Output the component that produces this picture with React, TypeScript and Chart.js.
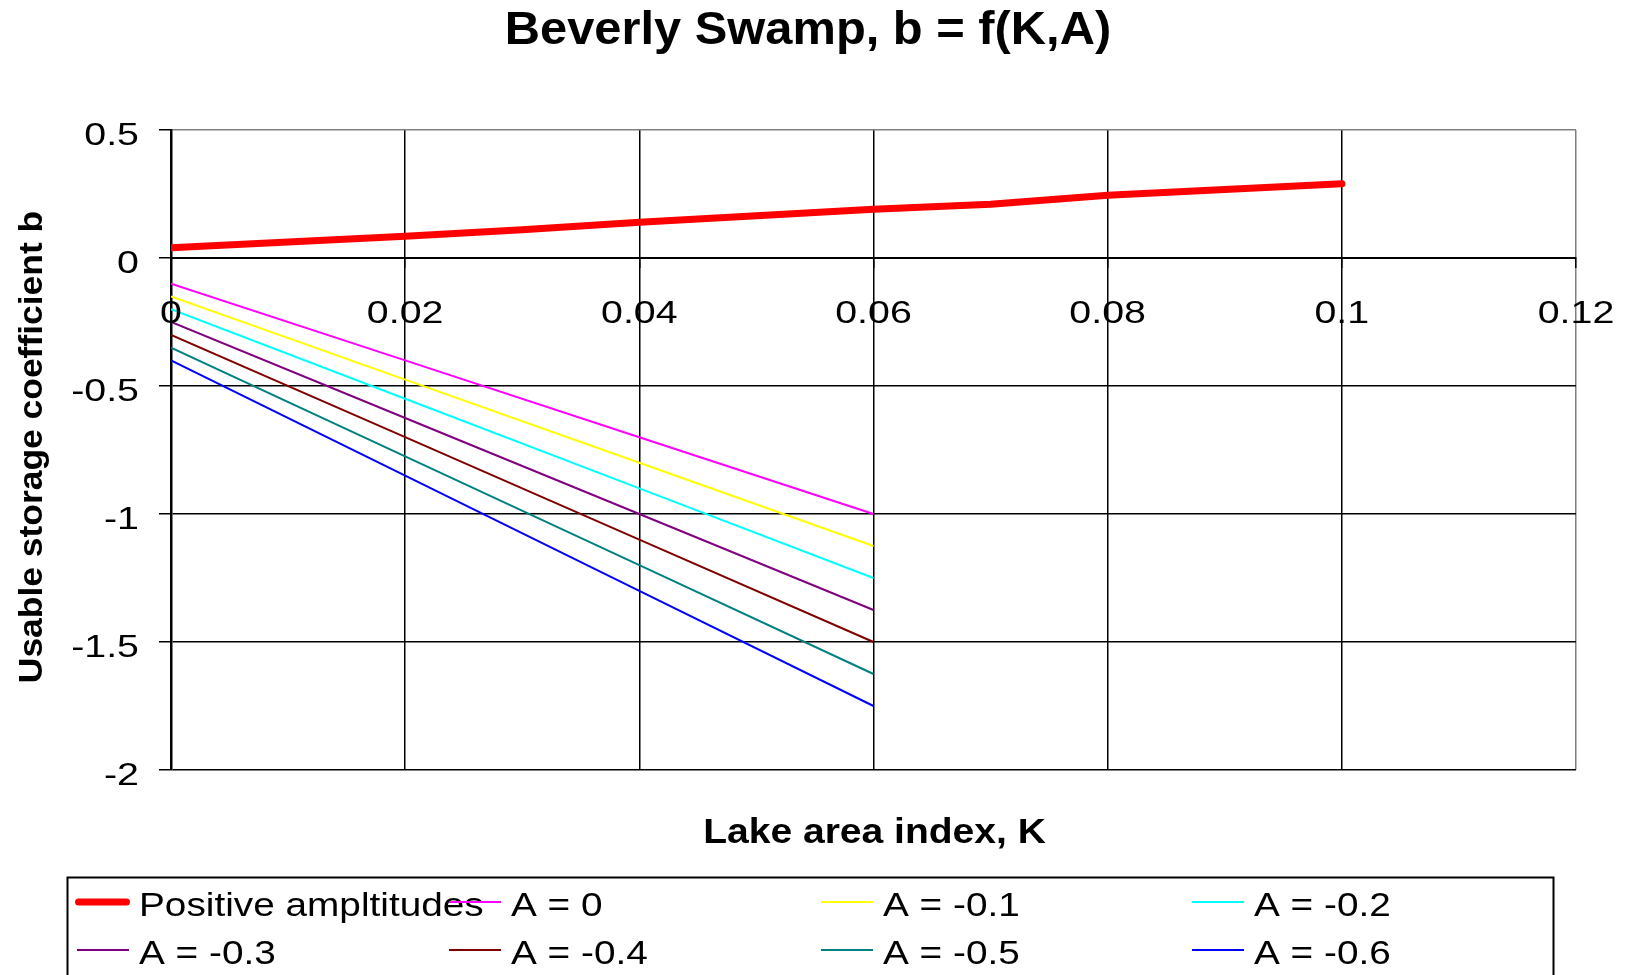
import { useEffect, useRef } from 'react';
import { Chart, registerables } from 'chart.js';

Chart.register(...registerables);

// ---- Text ----
const chartTitle = 'Beverly Swamp, b = f(K,A)';
const xAxisTitle = 'Lake area index, K';
const yAxisTitle = 'Usable storage coefficient b';

// ---- Positive amplitudes curve: b against lake area index K ----
const positiveLabel = 'Positive ampltitudes';
const positiveK = [0, 0.02, 0.03, 0.04, 0.06, 0.07, 0.08, 0.1];
const positiveB = [0.04, 0.085, 0.11, 0.14, 0.19, 0.21, 0.245, 0.29];

// ---- Negative amplitude family, all sampled at the same K values ----
const negativeK = [0, 0.02, 0.04, 0.06];
const amplitudeLabels = ['A = 0', 'A = -0.1', 'A = -0.2', 'A = -0.3', 'A = -0.4', 'A = -0.5', 'A = -0.6'];
const bA0 = [-0.1, -0.4, -0.7, -1.0];
const bAm01 = [-0.15, -0.475, -0.8, -1.125];
const bAm02 = [-0.2, -0.55, -0.9, -1.25];
const bAm03 = [-0.25, -0.625, -1.0, -1.375];
const bAm04 = [-0.3, -0.7, -1.1, -1.5];
const bAm05 = [-0.35, -0.775, -1.2, -1.625];
const bAm06 = [-0.4, -0.85, -1.3, -1.75];
const amplitudeSeries = [bA0, bAm01, bAm02, bAm03, bAm04, bAm05, bAm06];
const amplitudeColors = ['#FF00FF', '#FFFF00', '#00FFFF', '#800080', '#800000', '#008080', '#0000FF'];

// ---- Axis ticks ----
const xTickValues = [0, 0.02, 0.04, 0.06, 0.08, 0.1, 0.12];
const xTickLabels = ['0', '0.02', '0.04', '0.06', '0.08', '0.1', '0.12'];
const yTickValues = [0.5, 0, -0.5, -1, -1.5, -2];
const yTickLabels = ['0.5', '0', '-0.5', '-1', '-1.5', '-2'];

const FONT = '"Liberation Sans", Arial, Helvetica, sans-serif';
const WIDTH = 1627;
const HEIGHT = 975;

function toPoints(xs: number[], ys: number[]) {
  return xs.map((x, i) => ({ x, y: ys[i] }));
}

// Draws text widened horizontally by sx (the chart's lettering is set wide).
function wideText(
  ctx: CanvasRenderingContext2D,
  text: string,
  x: number,
  y: number,
  size: number,
  bold: boolean,
  sx: number,
  align: CanvasTextAlign,
  rotate = false
) {
  ctx.save();
  ctx.font = `${bold ? 'bold ' : ''}${size}px ${FONT}`;
  ctx.fillStyle = '#000';
  ctx.textBaseline = 'alphabetic';
  ctx.textAlign = align;
  ctx.translate(x, y);
  if (rotate) ctx.rotate(-Math.PI / 2);
  ctx.scale(sx, 1);
  ctx.fillText(text, 0, 0);
  ctx.restore();
}

const near = (a: number, b: number) => Math.abs(a - b) < 1e-9;

// Title, tick labels, axis titles and the boxed legend.
const annotations = {
  id: 'annotations',
  afterDraw(chart: any) {
    const ctx: CanvasRenderingContext2D = chart.ctx;
    const xs = chart.scales.x;
    const ys = chart.scales.y;
    const zeroY = ys.getPixelForValue(0);

    wideText(ctx, chartTitle, 808, 44, 46.5, true, 1.05, 'center');

    xTickValues.forEach((v, i) => {
      wideText(ctx, xTickLabels[i], xs.getPixelForValue(v), zeroY + 65, 31.5, false, 1.25, 'center');
    });
    yTickValues.forEach((v, i) => {
      wideText(ctx, yTickLabels[i], 139, ys.getPixelForValue(v) + 15, 31.5, false, 1.25, 'right');
    });

    const area = chart.chartArea;
    wideText(ctx, xAxisTitle, (area.left + area.right) / 2 + 1, 843, 35, true, 1.115, 'center');
    wideText(ctx, yAxisTitle, 41.5, 447, 32.6, true, 1.087, 'center', true);

    // Legend box
    ctx.save();
    ctx.strokeStyle = '#000';
    ctx.lineWidth = 2;
    ctx.strokeRect(67.5, 877.5, 1486, 140);
    ctx.restore();

    const colX = [77, 449, 821, 1192];
    const rowY = [902, 950];
    chart.data.datasets.forEach((ds: any, i: number) => {
      const cx = colX[i % 4];
      const cy = rowY[Math.floor(i / 4)];
      ctx.save();
      ctx.strokeStyle = ds.borderColor;
      if (ds.borderWidth > 3) {
        ctx.lineWidth = ds.borderWidth;
        ctx.lineCap = 'round';
        ctx.beginPath();
        ctx.moveTo(cx + 1.5, cy);
        ctx.lineTo(cx + 49.5, cy);
        ctx.stroke();
      } else {
        ctx.lineWidth = 2;
        ctx.beginPath();
        ctx.moveTo(cx, cy);
        ctx.lineTo(cx + 52, cy);
        ctx.stroke();
      }
      ctx.restore();
      wideText(ctx, ds.label, cx + 62, cy + 14, 34, false, 1.14, 'left');
    });
  },
};

export default function App() {
  const canvasRef = useRef<HTMLCanvasElement | null>(null);

  useEffect(() => {
    const canvas = canvasRef.current;
    if (!canvas) return;

    const datasets: any[] = [
      {
        label: positiveLabel,
        data: toPoints(positiveK, positiveB),
        borderColor: '#FF0000',
        borderWidth: 7,
        borderCapStyle: 'round',
        borderJoinStyle: 'round',
        pointRadius: 0,
        fill: false,
        tension: 0,
      },
      ...amplitudeSeries.map((ys, i) => ({
        label: amplitudeLabels[i],
        data: toPoints(negativeK, ys),
        borderColor: amplitudeColors[i],
        borderWidth: 2,
        pointRadius: 0,
        fill: false,
        tension: 0,
      })),
    ];

    const chart = new Chart(canvas, {
      type: 'line',
      data: { datasets },
      options: {
        responsive: false,
        animation: false,
        events: [],
        layout: { padding: { left: 151, right: 51, top: 130, bottom: 205 } },
        plugins: {
          legend: { display: false },
          title: { display: false },
          tooltip: { enabled: false },
        },
        scales: {
          x: {
            type: 'linear',
            min: 0,
            max: 0.12,
            position: { y: 0 } as any,
            ticks: { display: false, stepSize: 0.02 },
            grid: {
              color: (c: any) => (c.tick && near(c.tick.value, 0.12) ? '#808080' : '#000000'),
              lineWidth: 1.5,
              tickLength: 9,
              tickColor: '#000000',
              tickWidth: 1.5,
            },
            border: { color: '#000000', width: 2 },
            afterFit: (s: any) => {
              s.height = 0;
            },
          },
          y: {
            type: 'linear',
            min: -2,
            max: 0.5,
            ticks: { display: false, stepSize: 0.5 },
            grid: {
              color: (c: any) => (c.tick && near(c.tick.value, 0.5) ? '#808080' : '#000000'),
              lineWidth: 1.5,
              tickLength: 12,
              tickColor: '#000000',
              tickWidth: 1.5,
            },
            border: { color: '#000000', width: 2.5 },
            afterFit: (s: any) => {
              s.width = 20;
            },
          },
        },
      },
      plugins: [annotations],
    });

    return () => chart.destroy();
  }, []);

  return (
    <div style={{ position: 'fixed', left: 0, top: 0, width: WIDTH, height: HEIGHT, background: '#fff' }}>
      <canvas ref={canvasRef} width={WIDTH} height={HEIGHT} style={{ display: 'block', width: WIDTH, height: HEIGHT }} />
    </div>
  );
}
